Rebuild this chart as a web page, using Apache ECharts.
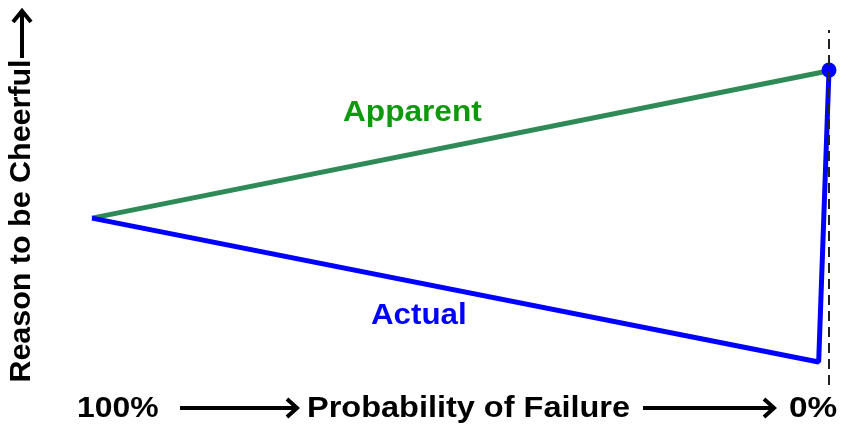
<!DOCTYPE html>
<html>
<head>
<meta charset="utf-8">
<script src="https://cdn.jsdelivr.net/npm/echarts@6/dist/echarts.min.js"></script>
<style>
html, body {margin: 0; padding: 0; background: #fff;}
#chart {width: 849px; height: 427px;}
</style>
</head>
<body>
<div id="chart"></div>
<script>
// 数据 (x = probability of failure, y = reason to be cheerful)
var apparentX = [100, 0.3];
var apparentY = [47, 88.4];
var actualX = [100, 1.4, 0];
var actualY = [47, 6.5, 88.7];

var apparentData = apparentX.map(function (x, i) { return [x, apparentY[i]]; });
var actualData = actualX.map(function (x, i) {
    var item = {value: [x, actualY[i]]};
    if (i === actualX.length - 1) {
        item.symbol = 'circle';
        item.symbolSize = 15;
    }
    return item;
});

var font = '"Liberation Sans", Arial, sans-serif';
function label(text, x, y, color, sx, extra) {
    var el = {type: 'text', x: x, y: y, scaleX: sx,
        style: {text: text, fill: color, font: 'bold 29px ' + font, textVerticalAlign: 'middle'}};
    if (extra) {
        for (var k in extra) el[k] = extra[k];
    }
    return el;
}
var chart = echarts.init(document.getElementById('chart'));
chart.setOption({
    animation: false,
    backgroundColor: '#fff',
    grid: {left: 92, right: 20, top: 30, bottom: 42},
    xAxis: {type: 'value', inverse: true, min: 0, max: 100, show: false},
    yAxis: {type: 'value', min: 0, max: 100, show: false},
    series: [
        {
            name: 'Apparent', type: 'line', data: apparentData,
            symbol: 'none', lineStyle: {color: '#2e8b57', width: 5}
        },
        {
            name: 'Actual', type: 'line', data: actualData,
            symbol: 'none', showAllSymbol: true,
            itemStyle: {color: '#0000ff'},
            lineStyle: {color: '#0000ff', width: 5},
            markLine: {
                silent: true, symbol: 'none', label: {show: false},
                lineStyle: {color: '#222', width: 2, type: [10, 6]},
                data: [{xAxis: 0}]
            },
            z: 3
        }
    ],
    graphic: [
        label('Apparent', 343, 113, '#0c990c', 1.09),
        label('Actual', 371, 316, '#0000ff', 1.08),
        {type: 'text', x: 22, y: 221, rotation: Math.PI / 2, scaleX: 1.05,
            style: {text: 'Reason to be Cheerful', fill: '#000', font: 'bold 29px ' + font, textAlign: 'center', textVerticalAlign: 'middle'}},
        {type: 'line', shape: {x1: 22, y1: 58, x2: 22, y2: 12}, style: {stroke: '#000', lineWidth: 4}},
        {type: 'polyline', shape: {points: [[13, 22], [22, 11], [31, 22]]}, style: {stroke: '#000', lineWidth: 4, fill: null}},
        label('100%', 77, 409, '#000', 1.1),
        {type: 'line', shape: {x1: 180, y1: 408, x2: 296, y2: 408}, style: {stroke: '#000', lineWidth: 4}},
        {type: 'polyline', shape: {points: [[287, 399], [297, 408], [287, 417]]}, style: {stroke: '#000', lineWidth: 4, fill: null}},
        label('Probability of Failure', 307, 409, '#000', 1.12),
        {type: 'line', shape: {x1: 643, y1: 408, x2: 773, y2: 408}, style: {stroke: '#000', lineWidth: 4}},
        {type: 'polyline', shape: {points: [[764, 399], [774, 408], [764, 417]]}, style: {stroke: '#000', lineWidth: 4, fill: null}},
        label('0%', 789, 409, '#000', 1.15)
    ]
});
</script>
</body>
</html>
